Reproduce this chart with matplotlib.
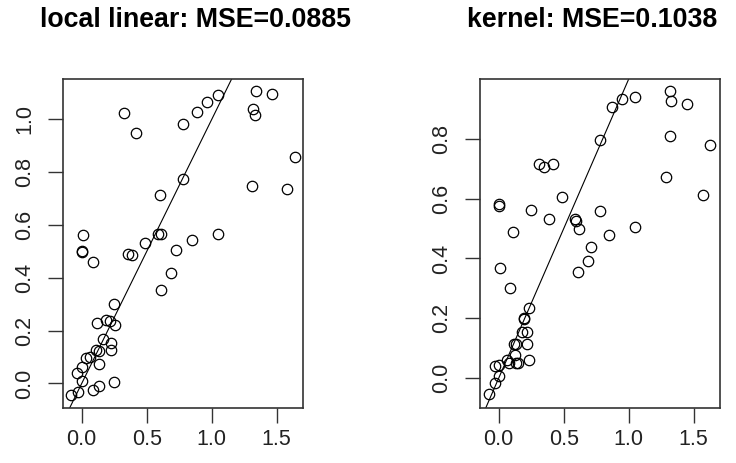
import matplotlib
matplotlib.use("Agg")
import matplotlib.pyplot as plt

plt.rcParams['font.family'] = ['Liberation Sans', 'DejaVu Sans']

# ---- data: local linear fit (x = true, y = fitted) ----
x_ll = [0.326, 0.418, 0.600, 0.780, 0.780, 0.010, 0.590, 0.610, 0.487, 0.887,
        0.964, 1.046, 1.343, 1.466, 1.318, 1.331, 1.641, 1.308, 1.582, 1.046,
        0.852, 0.000, 0.005, 0.087, 0.356, 0.388, 0.728, 0.690, 0.607, 0.246,
        0.118, 0.190, 0.215, 0.254, 0.164, 0.223, 0.112, 0.133, 0.228, 0.035,
        0.062, 0.133, 0.005, -0.036, 0.005, 0.246, 0.133, 0.087, -0.026, -0.080]
y_ll = [1.023, 0.948, 0.712, 0.982, 0.776, 0.562, 0.567, 0.567, 0.533, 1.029,
        1.067, 1.092, 1.106, 1.096, 1.039, 1.016, 0.858, 0.746, 0.735, 0.567,
        0.544, 0.502, 0.498, 0.461, 0.492, 0.487, 0.505, 0.420, 0.353, 0.300,
        0.228, 0.240, 0.235, 0.222, 0.168, 0.155, 0.126, 0.121, 0.126, 0.098,
        0.101, 0.073, 0.063, 0.038, 0.008, 0.006, -0.009, -0.024, -0.032, -0.043]

# ---- data: kernel fit ----
x_k = [0.311, 0.347, 0.418, 0.005, 0.005, 0.247, 0.385, 0.487, 0.584, 0.591,
       0.614, 0.780, 0.780, 0.112, 0.875, 0.951, 1.045, 1.316, 1.328, 1.448,
       1.316, 1.627, 1.290, 1.568, 1.045, 0.849, 0.711, 0.686, 0.609, 0.010,
       0.086, 0.234, 0.194, 0.197, 0.176, 0.219, 0.119, 0.214, 0.130, 0.125,
       0.234, 0.060, 0.080, 0.130, 0.005, -0.028, 0.005, -0.028, -0.072, 0.150]
y_k = [0.717, 0.706, 0.717, 0.583, 0.575, 0.563, 0.533, 0.607, 0.533, 0.524,
       0.497, 0.557, 0.797, 0.488, 0.906, 0.934, 0.940, 0.960, 0.925, 0.917,
       0.811, 0.781, 0.672, 0.613, 0.505, 0.479, 0.438, 0.393, 0.354, 0.369,
       0.301, 0.234, 0.200, 0.198, 0.153, 0.154, 0.115, 0.115, 0.115, 0.076,
       0.061, 0.060, 0.050, 0.050, 0.044, 0.042, 0.008, -0.015, -0.053, 0.050]

titles = ["local linear: MSE=0.0885", "kernel: MSE=0.1038"]
xticks = [0.0, 0.5, 1.0, 1.5]
yticks_ll = [0.0, 0.2, 0.4, 0.6, 0.8, 1.0]
yticks_k = [0.0, 0.2, 0.4, 0.6, 0.8]

W, H = 736, 463
fig = plt.figure(figsize=(W / 100, H / 100), dpi=100)

def px_axes(x0, y0, x1, y1):
    return fig.add_axes([x0 / W, 1 - y1 / H, (x1 - x0) / W, (y1 - y0) / H])

panels = [
    (px_axes(63, 79, 303, 408), x_ll, y_ll, yticks_ll, (-0.093, 1.153), titles[0], 40),
    (px_axes(480, 79, 720, 408), x_k, y_k, yticks_k, (-0.100, 1.000), titles[1], 467),
]

for ax, xs, ys, yt, ylim, title, tx in panels:
    ax.plot(xs, ys, linestyle='none', marker='o', markersize=7.5,
            markerfacecolor='none', markeredgecolor='black', markeredgewidth=0.9)
    ax.axline((0, 0), slope=1, color='black', linewidth=0.8)
    ax.set_xlim(-0.144, 1.702)
    ax.set_ylim(*ylim)
    ax.set_xticks(xticks)
    ax.set_xticklabels([f"{t:.1f}" for t in xticks])
    ax.set_yticks(yt)
    ax.set_yticklabels([f"{t:.1f}" for t in yt], rotation=90, va='center')
    ax.tick_params(axis='both', direction='out', length=11, width=1.0,
                   colors='#333333', labelsize=15.5, labelcolor='#222222')
    ax.tick_params(axis='x', pad=4)
    ax.tick_params(axis='y', pad=9)
    for s in ax.spines.values():
        s.set_linewidth(1.2)
        s.set_color('#333333')
    fig.text(tx / W, 1 - 20 / H, title, ha='left', va='center',
             fontsize=19.3, fontweight='bold', color='black')

fig.savefig("out.png", dpi=100)
